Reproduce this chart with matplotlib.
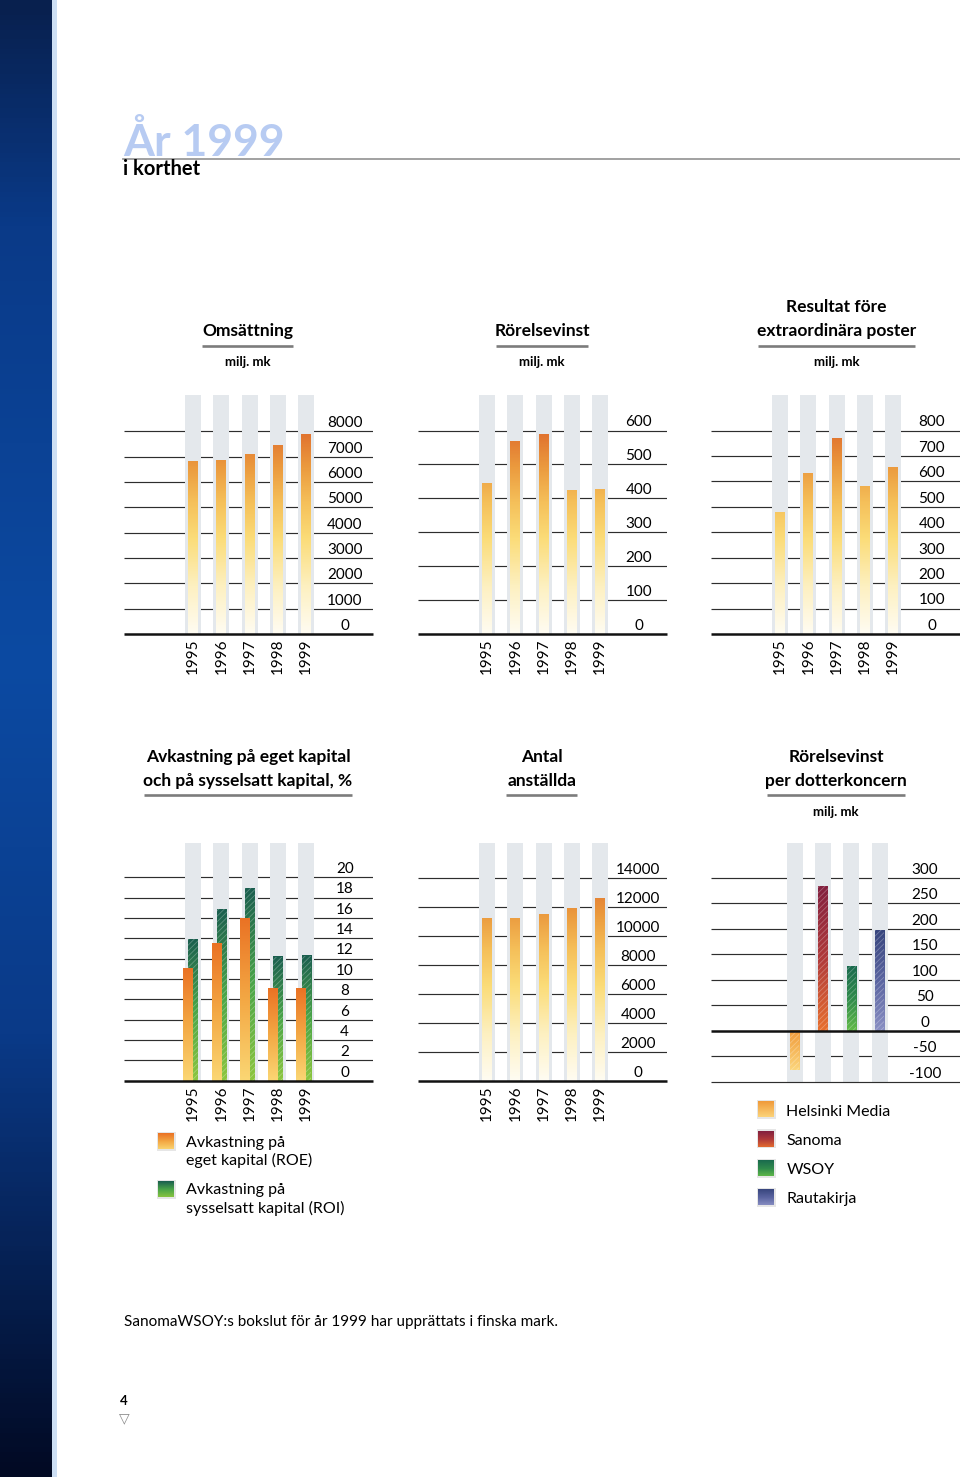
import numpy as np
import matplotlib
matplotlib.use("Agg")
import matplotlib.pyplot as plt
from matplotlib.colors import LinearSegmentedColormap
from matplotlib.patches import Rectangle

plt.rcParams['font.family'] = ['Lato', 'DejaVu Sans']
plt.rcParams['hatch.linewidth'] = 0.6

# ---- data ----
years = ['1995', '1996', '1997', '1998', '1999']
omsattning = [6800, 6830, 7100, 7460, 7880]
rorelsevinst = [443, 568, 589, 423, 425]
resultat = [479, 632, 768, 580, 654]
roe = [11.1, 13.5, 16.0, 9.1, 9.1]
roi = [13.9, 16.9, 18.9, 12.2, 12.3]
anstallda = [11240, 11220, 11470, 11890, 12620]
dotter = ['Helsinki Media', 'Sanoma', 'WSOY', 'Rautakirja']
dotter_vinst = [-78, 284, 127, 197]

ticks_oms = list(range(0, 8001, 1000))
ticks_rv = list(range(0, 601, 100))
ticks_res = list(range(0, 801, 100))
ticks_roe = list(range(0, 21, 2))
ticks_anst = list(range(0, 14001, 2000))
ticks_dot = list(range(-100, 301, 50))

# ---- colours ----
GRAY_COL = '#e4e8ec'
GRID = '#2e2e2e'
warm = LinearSegmentedColormap.from_list('warm', [
    (0.0, '#fffcf2'), (0.2, '#fdf0c0'), (0.4, '#fbdc78'), (0.55, '#f5c05a'),
    (0.7, '#eb9a3e'), (0.85, '#e0702e'), (1.0, '#d85c22')])
c_roe = LinearSegmentedColormap.from_list('roe', ['#fbd774', '#f3a844', '#ea7224'])
c_roi = LinearSegmentedColormap.from_list('roi', ['#8dc63f', '#4aa548', '#1a5e4f'])
c_dot = [LinearSegmentedColormap.from_list('hm', ['#fcd67c', '#f09a3a']),
         LinearSegmentedColormap.from_list('sa', ['#e8702e', '#b03a3a', '#82203f']),
         LinearSegmentedColormap.from_list('ws', ['#62bb48', '#2f8a4c', '#1a6a4e']),
         LinearSegmentedColormap.from_list('rk', ['#8a90c4', '#5a64a0', '#38467e'])]

W, H = 960, 1477
fig = plt.figure(figsize=(W / 100, H / 100), dpi=100)
fig.patch.set_facecolor('white')

# page layer in pixel coordinates
ax0 = fig.add_axes([0, 0, 1, 1])
ax0.set_xlim(0, W)
ax0.set_ylim(H, 0)
ax0.axis('off')

band = LinearSegmentedColormap.from_list('band', [
    (0.0, '#08204e'), (0.15, '#0a3a88'), (0.45, '#0c4aa2'),
    (0.7, '#0a3a88'), (1.0, '#020a24')])
ax0.imshow(np.linspace(0, 1, 300).reshape(-1, 1), extent=(0, 52, H, 0),
           cmap=band, aspect='auto', zorder=1)
ax0.add_patch(Rectangle((52, 0), 5, H, color='#cddff4', lw=0, zorder=1))

ax0.text(123, 156, 'År 1999', fontsize=32, fontweight='bold', color='#b7cbf2',
         va='baseline', ha='left', zorder=2)
ax0.plot([123, W], [158.5, 158.5], color='#9a9a9a', lw=1.3, zorder=3)
ax0.text(123, 175, 'i korthet', fontsize=14.5, fontweight='bold', color='black',
         va='baseline', ha='left')


def title(cx, lines, ybase, x0, x1, uy, unit_y=None):
    for k, s in enumerate(lines):
        ax0.text(cx, ybase + 24 * k, s, fontsize=12.5, fontweight='bold',
                 ha='center', va='baseline')
    ax0.plot([x0, x1], [uy, uy], color='#7c7c7c', lw=1.9, solid_capstyle='butt')
    if unit_y is not None:
        ax0.text(cx, unit_y, 'milj. mk', fontsize=9.5, fontweight='bold',
                 ha='center', va='baseline')


title(247.5, ['Omsättning'], 336, 202, 293, 346, 366)
title(542, ['Rörelsevinst'], 336, 496, 588, 346, 366)
title(836.5, ['Resultat före', 'extraordinära poster'], 312, 758, 915, 346, 366)
title(248, ['Avkastning på eget kapital', 'och på sysselsatt kapital, %'], 762,
      144, 352, 795)
title(542, ['Antal', 'anställda'], 762, 506, 577, 795)
title(836, ['Rörelsevinst', 'per dotterkoncern'], 762, 767, 905, 795, 816)


def chart(rect, xlim, ylim, ticks, lab_x, ncol, base=0, years_on=True):
    l, t, w, h = rect
    ax = fig.add_axes([l / W, 1 - (t + h) / H, w / W, h / H])
    ax.axis('off')
    grid = [v for v in ticks if v != base and v != ylim[0]]
    ax.hlines(grid, xlim[0], xlim[1], color=GRID, lw=0.85, zorder=1)
    ax.bar(range(ncol), ylim[1] - ylim[0], bottom=ylim[0], width=0.565,
           color=GRAY_COL, lw=0, zorder=2)
    ax.hlines([base], xlim[0], xlim[1], color='#111111', lw=1.8, zorder=5,
              clip_on=False)
    if ylim[0] != base:
        ax.hlines([ylim[0]], xlim[0], xlim[1], color=GRID, lw=0.85, zorder=5,
                  clip_on=False)
    for v in ticks:
        ax.annotate(str(v), (lab_x, v), xytext=(0, 3), textcoords='offset points',
                    ha='center', va='baseline', fontsize=11, annotation_clip=False)
    if years_on:
        for i, yr in enumerate(years):
            ax.annotate(yr, (i, base), xytext=(0, -3.5), textcoords='offset points',
                        rotation=90, ha='center', va='top', fontsize=11,
                        annotation_clip=False)
    return ax


def gbar(ax, x, w, v, cmap, lo=0.0, hi=1.0, z=3, hatch=False):
    y0, y1 = (0, v) if v >= 0 else (v, 0)
    g = np.linspace(lo, hi, 256).reshape(-1, 1)
    ax.imshow(g, extent=(x - w / 2, x + w / 2, y0, y1), origin='lower',
              cmap=cmap, vmin=0, vmax=1, aspect='auto', zorder=z)
    if hatch:
        ax.add_patch(Rectangle((x - w / 2, y0), w, y1 - y0, fill=False,
                               hatch='//////', edgecolor=(1, 1, 1, 0.28),
                               lw=0, zorder=z + 0.1))


XL = (-2.44, 6.36)

# top row
for left, vals, ticks, top in [(124, omsattning, ticks_oms, 9435),
                               (418, rorelsevinst, ticks_rv, 705),
                               (711, resultat, ticks_res, 940)]:
    ax = chart((left, 395, 249, 239), XL, (0, top), ticks, 5.36, 5)
    for i, v in enumerate(vals):
        gbar(ax, i, 0.353, v, warm, 0, v / top)
    ax.set_xlim(*XL)
    ax.set_ylim(0, top)

# return on capital
ax = chart((124, 842.7, 249, 238), XL, (0, 23.4), ticks_roe, 5.36, 5)
for i in range(5):
    gbar(ax, i + 0.01, 0.353, roi[i], c_roi, z=3, hatch=True)
    gbar(ax, i - 0.18, 0.33, roe[i], c_roe, z=4)
ax.set_xlim(*XL)
ax.set_ylim(0, 23.4)

# employees
ax = chart((418, 842.7, 249, 238), XL, (0, 16414), ticks_anst, 5.34, 5)
for i, v in enumerate(anstallda):
    gbar(ax, i, 0.353, v, warm, 0, v / 16414)
ax.set_xlim(*XL)
ax.set_ylim(0, 16414)

# per subsidiary
XL2 = (-2.96, 5.84)
ax = chart((711, 842.7, 249, 239), XL2, (-100, 368.6), ticks_dot, 4.6, 4,
           years_on=False)
for i, v in enumerate(dotter_vinst):
    gbar(ax, i, 0.33, v, c_dot[i], hatch=True)
ax.set_xlim(*XL2)
ax.set_ylim(-100, 368.6)


# legends
def swatch(x, y, cmap):
    ax0.add_patch(Rectangle((x - 1.5, y - 1.5), 19, 19, color='#e6e6e6', lw=0, zorder=2))
    ax0.imshow(np.linspace(1, 0.05, 64).reshape(-1, 1),
               extent=(x, x + 16, y + 16, y), cmap=cmap, vmin=0, vmax=1,
               aspect='auto', zorder=3)


swatch(158, 1133.5, c_roe)
ax0.text(186, 1146.5, 'Avkastning på', fontsize=11.5, va='baseline')
ax0.text(186, 1165, 'eget kapital (ROE)', fontsize=11.5, va='baseline')
swatch(158, 1181, c_roi)
ax0.text(186, 1194, 'Avkastning på', fontsize=11.5, va='baseline')
ax0.text(186, 1212.5, 'sysselsatt kapital (ROI)', fontsize=11.5, va='baseline')

for k, name in enumerate(dotter):
    swatch(758, 1101.5 + 29.3 * k, c_dot[k])
    ax0.text(786.5, 1115.5 + 29.3 * k, name, fontsize=11.5, va='baseline')

ax0.text(124, 1326, 'SanomaWSOY:s bokslut för år 1999 har upprättats i finska mark.',
         fontsize=11, va='baseline')
ax0.text(124, 1405, '4', fontsize=9.5, fontweight='bold', ha='center', va='baseline')
ax0.text(124, 1418, '▽', fontsize=10, color='#8a8a8a', ha='center', va='center',
         family=['DejaVu Sans'])

ax0.set_xlim(0, W)
ax0.set_ylim(H, 0)

fig.savefig('out.png', dpi=100)
